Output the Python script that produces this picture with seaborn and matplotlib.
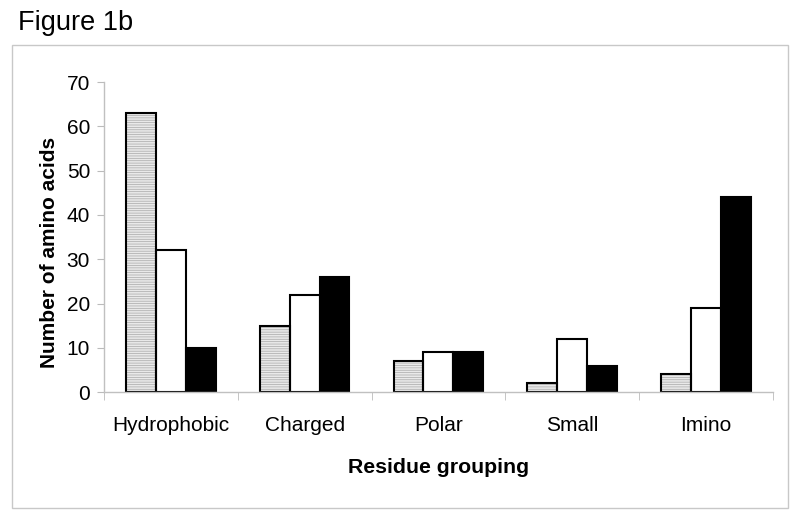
import pandas as pd
import numpy as np
import matplotlib
matplotlib.use('Agg')
import matplotlib.pyplot as plt
import seaborn as sns
from matplotlib.patches import Rectangle

groups = ['Hydrophobic', 'Charged', 'Polar', 'Small', 'Imino']
series = ['Set A', 'Set B', 'Set C']
set_a = [63, 15, 7, 2, 4]
set_b = [32, 22, 9, 12, 19]
set_c = [10, 26, 9, 6, 44]
y_ticks = [0, 10, 20, 30, 40, 50, 60, 70]

df = pd.DataFrame({
    'group': groups * 3,
    'series': [series[0]] * 5 + [series[1]] * 5 + [series[2]] * 5,
    'count': set_a + set_b + set_c,
})

sns.set_style('white', {'text.color': 'black', 'axes.labelcolor': 'black',
                        'xtick.color': 'black', 'ytick.color': 'black'})
plt.rcParams['font.family'] = ['Liberation Sans', 'DejaVu Sans']
plt.rcParams['hatch.linewidth'] = 0.5

fig = plt.figure(figsize=(8, 5.2), dpi=100)
ax = fig.add_axes([0.13, 0.246, 0.836, 0.596])

sns.barplot(data=df, x='group', y='count', hue='series', order=groups, hue_order=series,
            palette=['#e9e9e9', 'white', 'black'], edgecolor='black', linewidth=1.5,
            width=0.67, gap=0, legend=False, ax=ax)

# first series gets fine horizontal hatching in gray, outline redrawn in black
for p in ax.patches[:len(groups)]:
    p.set_hatch('-------')
    p.set_edgecolor('#a8a8a8')
    p.set_linewidth(0)
    ax.add_patch(Rectangle((p.get_x(), p.get_y()), p.get_width(), p.get_height(),
                           fill=False, edgecolor='black', linewidth=1.5, zorder=p.get_zorder() + 0.1))

ax.set_ylim(0, 70)
ax.set_xlim(-0.5, len(groups) - 0.5)
ax.set_yticks(y_ticks)
ax.tick_params(axis='y', left=True, length=5, color='#bbbbbb', labelcolor='black', labelsize=15, pad=5)
ax.tick_params(axis='x', bottom=False, labelcolor='black', labelsize=15, pad=14)
ax.set_xticks(np.arange(-0.5, len(groups)), minor=True)
ax.tick_params(axis='x', which='minor', bottom=True, length=6, color='#bbbbbb')

for s in ['top', 'right']:
    ax.spines[s].set_visible(False)
for s in ['left', 'bottom']:
    ax.spines[s].set_color('#c0c0c0')
    ax.spines[s].set_linewidth(1)

ax.set_xlabel('Residue grouping', fontsize=15.3, fontweight='bold', color='black', labelpad=16)
ax.set_ylabel('Number of amino acids', fontsize=15, fontweight='bold', color='black')
ax.yaxis.set_label_coords(-0.068, 0.45)

fig.text(0.022, 0.955, 'Figure 1b', fontsize=19.5, color='black', va='center', ha='left')
fig.patches.append(Rectangle((0.015, 0.023), 0.97, 0.89, transform=fig.transFigure,
                             fill=False, edgecolor='#c8c8c8', linewidth=1))

fig.savefig('out.png', dpi=100)
